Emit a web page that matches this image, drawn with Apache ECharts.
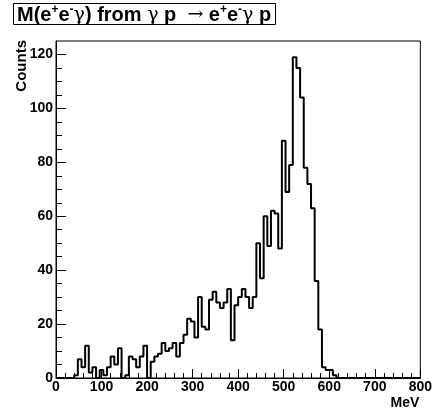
<!DOCTYPE html>
<html>
<head>
<meta charset="utf-8">
<script src="https://cdn.jsdelivr.net/npm/echarts@6/dist/echarts.min.js"></script>
<style>
html,body{margin:0;padding:0;background:#fff;}
#chart{width:435px;height:414px;}
</style>
</head>
<body>
<div id="chart"></div>
<script>
// Histogram definition: 100 bins from 0 to 800 MeV
const nBins = 100;
const xLow = 0;
const xHigh = 800;
// Counts per bin
const counts = [
  0, 0, 0, 0, 0, 1, 7, 4, 12, 2,
  4, 0, 3, 1, 4, 8, 5, 11, 0, 1,
  8, 7, 4, 8, 12, 0, 6, 8, 9, 13,
  10, 11, 13, 8, 13, 16, 22, 21, 15, 30,
  19, 18, 29, 32, 28, 26, 28, 33, 14, 27,
  30, 33, 30, 26, 30, 50, 37, 60, 49, 62,
  61, 48, 88, 69, 79, 119, 115, 104, 78, 72,
  63, 36, 18, 4, 3, 3, 1, 0, 0, 0,
  0, 0, 0, 0, 0, 0, 0, 0, 0, 0,
  0, 0, 0, 0, 0, 0, 0, 0, 0, 0
];
const xTicks = [0, 100, 200, 300, 400, 500, 600, 700, 800];
const yTicks = [0, 20, 40, 60, 80, 100, 120];
const yMinorTicks = [5, 10, 15, 25, 30, 35, 45, 50, 55, 65, 70, 75, 85, 90, 95, 105, 110, 115];
const yMax = 125;

const binW = (xHigh - xLow) / nBins;
const histData = counts.map((c, i) => [xLow + i * binW, c]);
histData.push([xHigh, counts[counts.length - 1]]);

const FONT = 'Liberation Sans';
const chart = echarts.init(document.getElementById('chart'), null, {renderer: 'canvas'});
chart.setOption({
  animation: false,
  backgroundColor: '#fff',
  title: {
    text: 'M(e{sup|+}e{sup|-}{g|γ}) from {g|γ} p  {g|→} e{sup|+}e{sup|-}{g|γ} p',
    left: 13,
    top: 3,
    padding: [1, 5, 0, 4],
    borderColor: '#000',
    borderWidth: 1,
    textStyle: {
      fontFamily: FONT,
      fontWeight: 'bold',
      fontSize: 20,
      color: '#000',
      rich: {
        sup: {fontFamily: FONT, fontWeight: 'bold', fontSize: 12, verticalAlign: 'top', padding: [0, 0, 10, 0], color: '#000'},
        g: {fontFamily: 'DejaVu Serif', fontWeight: 'normal', fontSize: 19, color: '#000'}
      }
    }
  },
  grid: {
    left: 56, right: 12, top: 41, bottom: 36,
    show: true, borderColor: '#000', borderWidth: 1, backgroundColor: 'transparent'
  },
  xAxis: {
    type: 'value',
    min: xTicks[0], max: xTicks[xTicks.length - 1], interval: 100,
    name: 'MeV',
    nameLocation: 'end',
    nameGap: -1,
    nameTextStyle: {fontFamily: FONT, fontWeight: 'bold', fontSize: 14, color: '#000', align: 'right', verticalAlign: 'top', padding: [18, 0, 0, 0]},
    axisLine: {show: true, lineStyle: {color: '#000', width: 1}},
    axisTick: {show: true, inside: true, length: 9, lineStyle: {color: '#000', width: 1}},
    minorTick: {show: true, splitNumber: 5, length: 5, lineStyle: {color: '#000', width: 1}},
    axisLabel: {fontFamily: FONT, fontWeight: 'bold', fontSize: 14, color: '#000', margin: 2},
    splitLine: {show: false}
  },
  yAxis: [
    {
      type: 'value', min: 0, max: yMax, interval: 20,
      axisLine: {show: true, lineStyle: {color: '#000', width: 1}},
      axisTick: {show: true, inside: true, length: 10, customValues: yTicks, lineStyle: {color: '#000', width: 1}},
      axisLabel: {fontFamily: FONT, fontWeight: 'bold', fontSize: 14, color: '#000', margin: 3, customValues: yTicks},
      splitLine: {show: false}
    },
    {
      type: 'value', min: 0, max: yMax, position: 'left', offset: 0,
      axisLine: {show: false},
      axisTick: {show: true, inside: true, length: 6, customValues: yMinorTicks, lineStyle: {color: '#000', width: 1}},
      axisLabel: {show: false},
      splitLine: {show: false}
    }
  ],
  graphic: [{
    type: 'text',
    left: 14, top: 40,
    rotation: Math.PI / 2,
    style: {text: 'Counts', fontFamily: FONT, fontWeight: 'bold', fontSize: 15, fill: '#000'}
  }],
  series: [{
    type: 'line',
    step: 'end',
    data: histData,
    symbol: 'none',
    xAxisIndex: 0, yAxisIndex: 0,
    lineStyle: {color: '#000', width: 2},
    silent: true
  }]
});
</script>
</body>
</html>
